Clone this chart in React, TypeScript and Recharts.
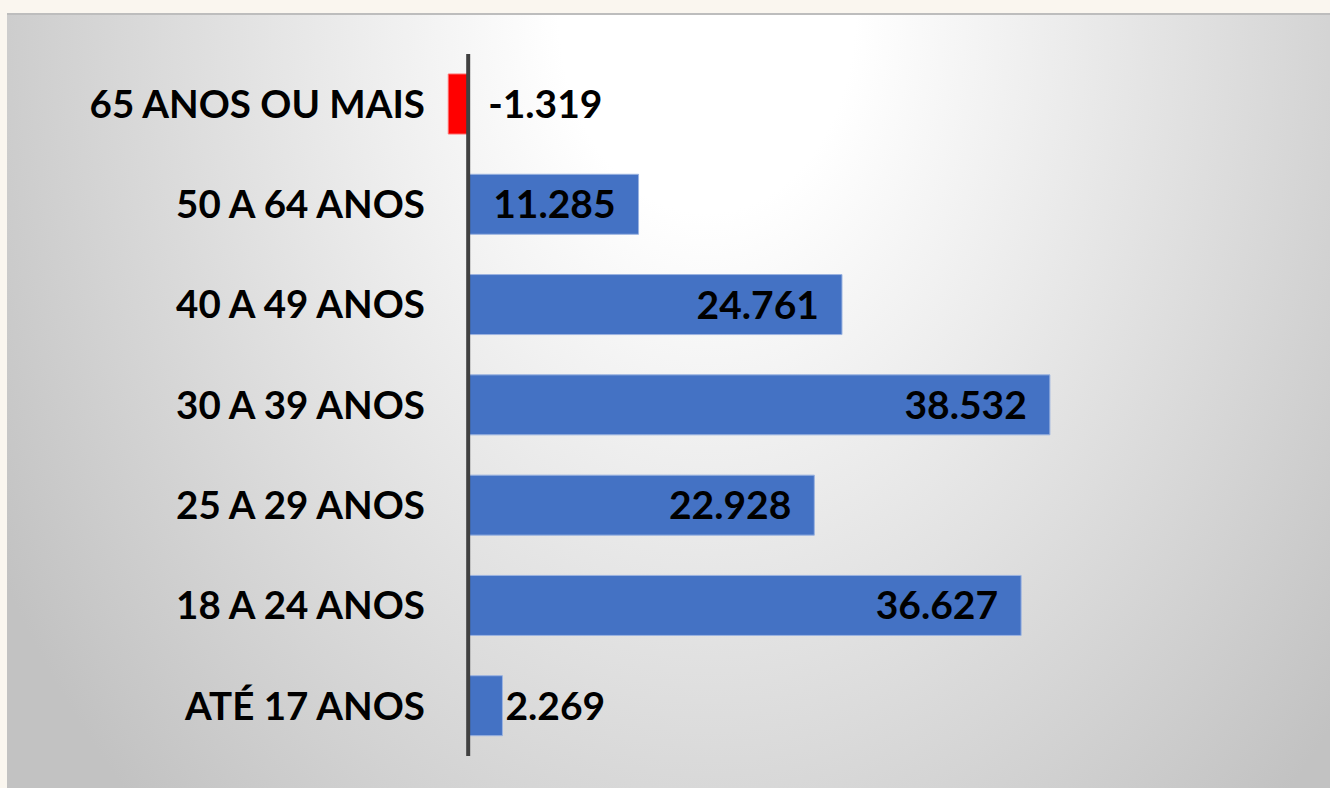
import { BarChart, Bar, XAxis, YAxis, ReferenceLine, Cell, LabelList } from 'recharts';

const faixas = [
  '65 ANOS OU MAIS',
  '50 A 64 ANOS',
  '40 A 49 ANOS',
  '30 A 39 ANOS',
  '25 A 29 ANOS',
  '18 A 24 ANOS',
  'ATÉ 17 ANOS',
];

const saldos = [-1319, 11285, 24761, 38532, 22928, 36627, 2269];

const fmt = (v: number) => v.toLocaleString('pt-BR');

const font = 'Lato, "Open Sans", sans-serif';

function ValueLabel(props: any) {
  const { x, y, width, height, value } = props;
  const right = Math.max(x, x + width);
  const cy = y + height / 2;
  let tx = right - 23;
  let anchor = 'end';
  if (value < 0) {
    tx = right + 20;
    anchor = 'start';
  } else if (value < 5000) {
    tx = right + 3;
    anchor = 'start';
  }
  return (
    <text x={tx} y={cy} dy="0.36em" textAnchor={anchor} fontFamily={font} fontWeight={700} fontSize={39} fill="#000">
      {fmt(value)}
    </text>
  );
}

export default function App() {
  const data = [];
  for (let i = 0; i < faixas.length; i++) {
    data.push({ faixa: faixas[i], saldo: saldos[i] });
  }

  return (
    <div style={{ position: 'absolute', left: 0, top: 0, width: 1330, height: 788, background: '#faf6ef', overflow: 'hidden' }}>
      <div
        style={{
          position: 'absolute',
          left: 7,
          top: 13,
          width: 1323,
          height: 775,
          borderTop: '2px solid #bdbdbd',
          background: 'radial-gradient(ellipse 820px 1100px at 700px 0px, #ffffff 0%, #ffffff 18%, #c2c2c2 100%)',
        }}
      >
        <BarChart
          width={1323}
          height={773}
          data={data}
          layout="vertical"
          margin={{ top: 39, right: 107, bottom: 32, left: 51 }}
          barSize={60}
        >
          <XAxis type="number" domain={[-2000, 50000]} hide allowDataOverflow />
          <YAxis
            type="category"
            dataKey="faixa"
            width={380}
            axisLine={false}
            tickLine={false}
            tickSize={0}
            tickMargin={13}
            tick={{ fontFamily: font, fontWeight: 700, fontSize: 38.5, fill: '#000' }}
          />
          <Bar dataKey="saldo" isAnimationActive={false} strokeWidth={1}>
            {data.map((d, i) => (
              <Cell
                key={i}
                fill={d.saldo < 0 ? '#ff0000' : '#4472c4'}
                stroke={d.saldo < 0 ? '#ff6b6b' : '#9bb3e0'}
              />
            ))}
            <LabelList dataKey="saldo" content={ValueLabel} />
          </Bar>
          <ReferenceLine x={0} stroke="#404040" strokeWidth={4} />
        </BarChart>
      </div>
    </div>
  );
}
